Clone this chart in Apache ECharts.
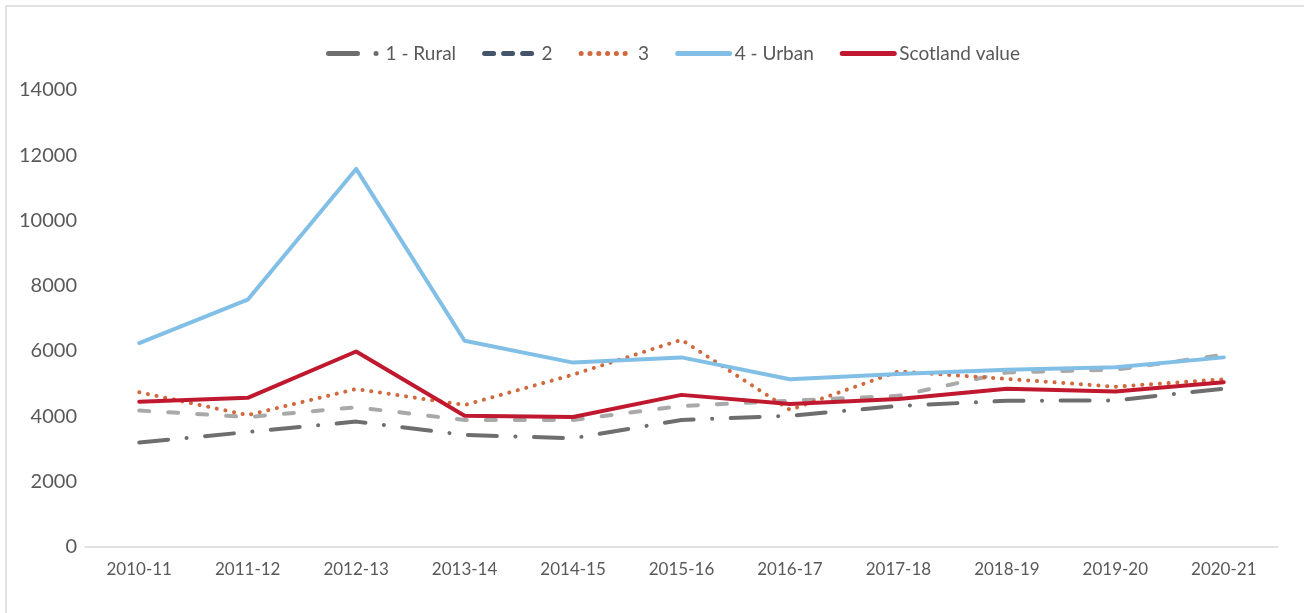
<!DOCTYPE html>
<html>
<head>
<meta charset="utf-8">
<script src="https://cdn.jsdelivr.net/npm/echarts@6/dist/echarts.min.js"></script>
<style>
  html, body { margin: 0; padding: 0; background: #ffffff; }
  #chart { width: 1304px; height: 613px; }
</style>
</head>
<body>
<div id="chart"></div>
<script>
// Financial years on the category axis
const years = ['2010-11', '2011-12', '2012-13', '2013-14', '2014-15', '2015-16',
               '2016-17', '2017-18', '2018-19', '2019-20', '2020-21'];

// Values by urban/rural group
const rural1   = [3190, 3510, 3830, 3420, 3320, 3880, 4010, 4310, 4470, 4480, 4840];
const group2   = [4170, 3970, 4270, 3880, 3880, 4310, 4470, 4620, 5340, 5420, 5880];
const group3   = [4730, 4030, 4830, 4340, 5270, 6340, 4190, 5370, 5140, 4900, 5130];
const urban4   = [6240, 7570, 11580, 6310, 5640, 5800, 5130, 5290, 5420, 5500, 5800];
const scotland = [4440, 4560, 5980, 4010, 3970, 4650, 4370, 4520, 4840, 4750, 5040];

// Value axis ticks
const yMin = 0, yMax = 14000, yStep = 2000;

const textColor = '#595959';
const fontFamily = 'Lato, "Open Sans", sans-serif';

const chart = echarts.init(document.getElementById('chart'), null, { renderer: 'canvas' });

function lineSeries(name, data, color, width, dash, z) {
  return {
    name: name,
    type: 'line',
    data: data,
    symbol: 'none',
    z: z,
    lineStyle: { color: color, width: width, type: dash, cap: 'round', join: 'round' },
    itemStyle: { color: color },
    emphasis: { disabled: true }
  };
}

chart.setOption({
  animation: false,
  backgroundColor: '#ffffff',
  graphic: [{
    type: 'rect',
    shape: { x: 6, y: 6, width: 1320, height: 640 },
    style: { fill: 'none', stroke: '#d9d9d9', lineWidth: 1.5 },
    silent: true
  }],
  legend: {
    top: 39,
    left: 321,
    itemWidth: 52,
    itemHeight: 14,
    itemGap: 26,
    itemStyle: { opacity: 0 },
    lineStyle: { width: 5 },
    textStyle: { color: textColor, fontSize: 19, fontFamily: fontFamily },
    data: [
      { name: '1 - Rural' },
      { name: '2', lineStyle: { color: '#44546A', width: 5, type: [9, 10] } },
      { name: '3' },
      { name: '4 - Urban' },
      { name: 'Scotland value' }
    ]
  },
  grid: { left: 85, right: 26, top: 90, bottom: 66.5 },
  xAxis: {
    type: 'category',
    data: years,
    boundaryGap: true,
    axisLine: { show: true, lineStyle: { color: '#d9d9d9', width: 1.5 } },
    axisTick: { show: false },
    axisLabel: { color: textColor, fontSize: 17, fontFamily: fontFamily, margin: 15 },
    splitLine: { show: false }
  },
  yAxis: {
    type: 'value',
    min: yMin,
    max: yMax,
    interval: yStep,
    axisLine: { show: false },
    axisTick: { show: false },
    axisLabel: {
      color: textColor, fontSize: 20, fontFamily: fontFamily, margin: 8,
      formatter: function (v) { return String(v); }
    },
    splitLine: { show: false }
  },
  series: [
    lineSeries('1 - Rural', rural1, '#6e6e6e', 4, [29, 18.5, 0.1, 18.5], 2),
    lineSeries('2', group2, '#a9a9a9', 4, [10, 19], 3),
    lineSeries('3', group3, '#d0693d', 4, [0.1, 8.7], 4),
    lineSeries('4 - Urban', urban4, '#82bfe6', 4, 'solid', 5),
    lineSeries('Scotland value', scotland, '#c0192f', 4, 'solid', 6)
  ]
});
</script>
</body>
</html>
